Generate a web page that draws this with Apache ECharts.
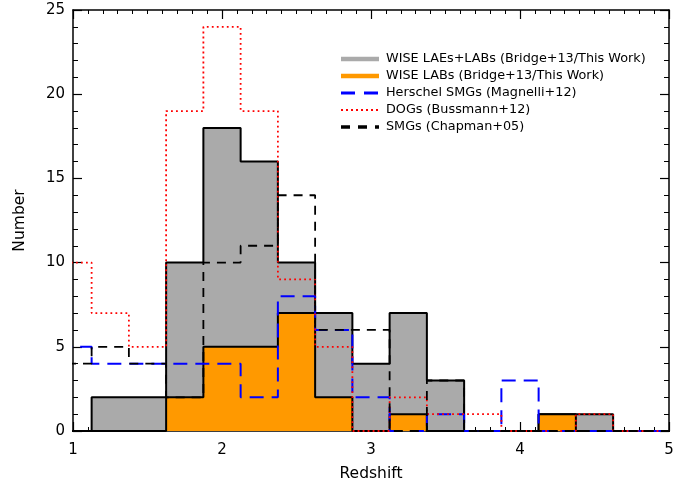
<!DOCTYPE html>
<html>
<head>
<meta charset="utf-8">
<script src="https://cdn.jsdelivr.net/npm/echarts@6/dist/echarts.min.js"></script>
<style>html,body{margin:0;padding:0;background:#fff}#c{width:690px;height:487px}</style>
</head>
<body>
<div id="c"></div>
<script>
// Bin lower edges (width 0.25)
const binStart = [0.875, 1.125, 1.375, 1.625, 1.875, 2.125, 2.375, 2.625, 2.875, 3.125, 3.375, 3.625, 3.875, 4.125, 4.375, 4.625, 4.875];
const binWidth = 0.25;
const wiseAll   = [0, 2, 2, 10, 18, 16, 10, 7, 4, 7, 3, 0, 0, 1, 1, 0, 0];
const wiseLABs  = [0, 0, 0, 2, 5, 5, 7, 2, 0, 1, 0, 0, 0, 1, 0, 0, 0];
const herschel  = [5, 4, 4, 4, 4, 2, 8, 6, 2, 0, 1, 0, 3, 0, 0, 0, 0];
const dogs      = [10, 7, 5, 19, 24, 19, 9, 5, 0, 2, 1, 1, 0, 0, 1, 0, 0];
const smgs      = [4, 5, 4, 2, 10, 11, 14, 6, 6, 0, 3, 0, 0, 0, 0, 0, 0];
const names = [
  'WISE LAEs+LABs (Bridge+13/This Work)',
  'WISE LABs (Bridge+13/This Work)',
  'Herschel SMGs (Magnelli+12)',
  'DOGs (Bussmann+12)',
  'SMGs (Chapman+05)'
];
const xTicks = [1, 2, 3, 4, 5];
const yTicks = [0, 5, 10, 15, 20, 25];

function steps(vals) {
  const pts = [[binStart[0], 0]];
  vals.forEach((v, i) => {
    pts.push([binStart[i], v]);
    pts.push([binStart[i] + binWidth, v]);
  });
  pts.push([binStart[binStart.length - 1] + binWidth, 0]);
  return pts;
}

const font = 'DejaVu Sans';
const chart = echarts.init(document.getElementById('c'));

function xAx(pos, labels) {
  return {
    type: 'value', position: pos, min: xTicks[0], max: xTicks[xTicks.length - 1], interval: 1,
    axisLine: { show: true, onZero: false, lineStyle: { color: '#000', width: 1.5 } },
    axisTick: { show: true, inside: true, length: 9, lineStyle: { color: '#000', width: 1.2 } },
    minorTick: { show: true, splitNumber: 10, length: 4, lineStyle: { color: '#000', width: 1 } },
    axisLabel: { show: labels, margin: 12, color: '#000', fontSize: 15, fontFamily: font },
    splitLine: { show: false },
    name: labels ? 'Redshift' : '', nameLocation: 'middle', nameGap: 35,
    nameTextStyle: { color: '#000', fontSize: 15.5, fontFamily: font }
  };
}
function yAx(pos, labels) {
  return {
    type: 'value', position: pos, min: yTicks[0], max: yTicks[yTicks.length - 1], interval: 5,
    axisLine: { show: true, onZero: false, lineStyle: { color: '#000', width: 1.5 } },
    axisTick: { show: true, inside: true, length: 9, lineStyle: { color: '#000', width: 1.2 } },
    minorTick: { show: true, splitNumber: 5, length: 5, lineStyle: { color: '#000', width: 1 } },
    axisLabel: { show: labels, margin: 8, color: '#000', fontSize: 15, fontFamily: font },
    splitLine: { show: false },
    name: labels ? 'Number' : '', nameLocation: 'middle', nameGap: 45,
    nameTextStyle: { color: '#000', fontSize: 15.5, fontFamily: font }
  };
}

const base = { type: 'line', symbol: 'none', xAxisIndex: 0, yAxisIndex: 0, animation: false, clip: true };

// legend drawn as graphic elements (line sample + text)
const legendStyles = [
  { stroke: '#aaaaaa', lineWidth: 4.5 },
  { stroke: '#ff9900', lineWidth: 4.5 },
  { stroke: '#0000ff', lineWidth: 3, lineDash: [14, 9] },
  { stroke: '#ff0000', lineWidth: 2.2, lineDash: [2, 3] },
  { stroke: '#000000', lineWidth: 3.5, lineDash: [9, 8] }
];
const legendGraphic = [];
names.forEach((n, i) => {
  const y = 59 + i * 17;
  legendGraphic.push({ type: 'line', shape: { x1: 341, y1: y, x2: 379, y2: y }, style: legendStyles[i], z: 100 });
  legendGraphic.push({ type: 'text', x: 386, y: y, style: { text: n, fill: '#000', font: '12.8px "DejaVu Sans"', textVerticalAlign: 'middle' }, z: 100 });
});

chart.setOption({
  animation: false,
  backgroundColor: '#fff',
  grid: { left: 73, right: 21, top: 10, bottom: 54 },
  xAxis: [xAx('bottom', true), xAx('top', false)],
  yAxis: [yAx('left', true), yAx('right', false)],
  graphic: legendGraphic,
  series: [
    Object.assign({}, base, { name: names[0], data: steps(wiseAll), z: 1,
      lineStyle: { color: '#000', width: 2 }, itemStyle: { color: '#aaaaaa' },
      areaStyle: { color: '#aaaaaa', opacity: 1 } }),
    Object.assign({}, base, { name: names[1], data: steps(wiseLABs), z: 2,
      lineStyle: { color: '#000', width: 2 }, itemStyle: { color: '#ff9900' },
      areaStyle: { color: '#ff9900', opacity: 1 } }),
    Object.assign({}, base, { name: names[2], data: steps(herschel), z: 3,
      lineStyle: { color: '#0000ff', width: 2, type: [14, 8] }, itemStyle: { color: '#0000ff' } }),
    Object.assign({}, base, { name: names[3], data: steps(dogs), z: 4,
      lineStyle: { color: '#ff0000', width: 1.8, type: [1.8, 3.2] }, itemStyle: { color: '#ff0000' } }),
    Object.assign({}, base, { name: names[4], data: steps(smgs), z: 5,
      lineStyle: { color: '#000', width: 1.8, type: [9, 7] }, itemStyle: { color: '#000' } })
  ]
});
</script>
</body>
</html>
